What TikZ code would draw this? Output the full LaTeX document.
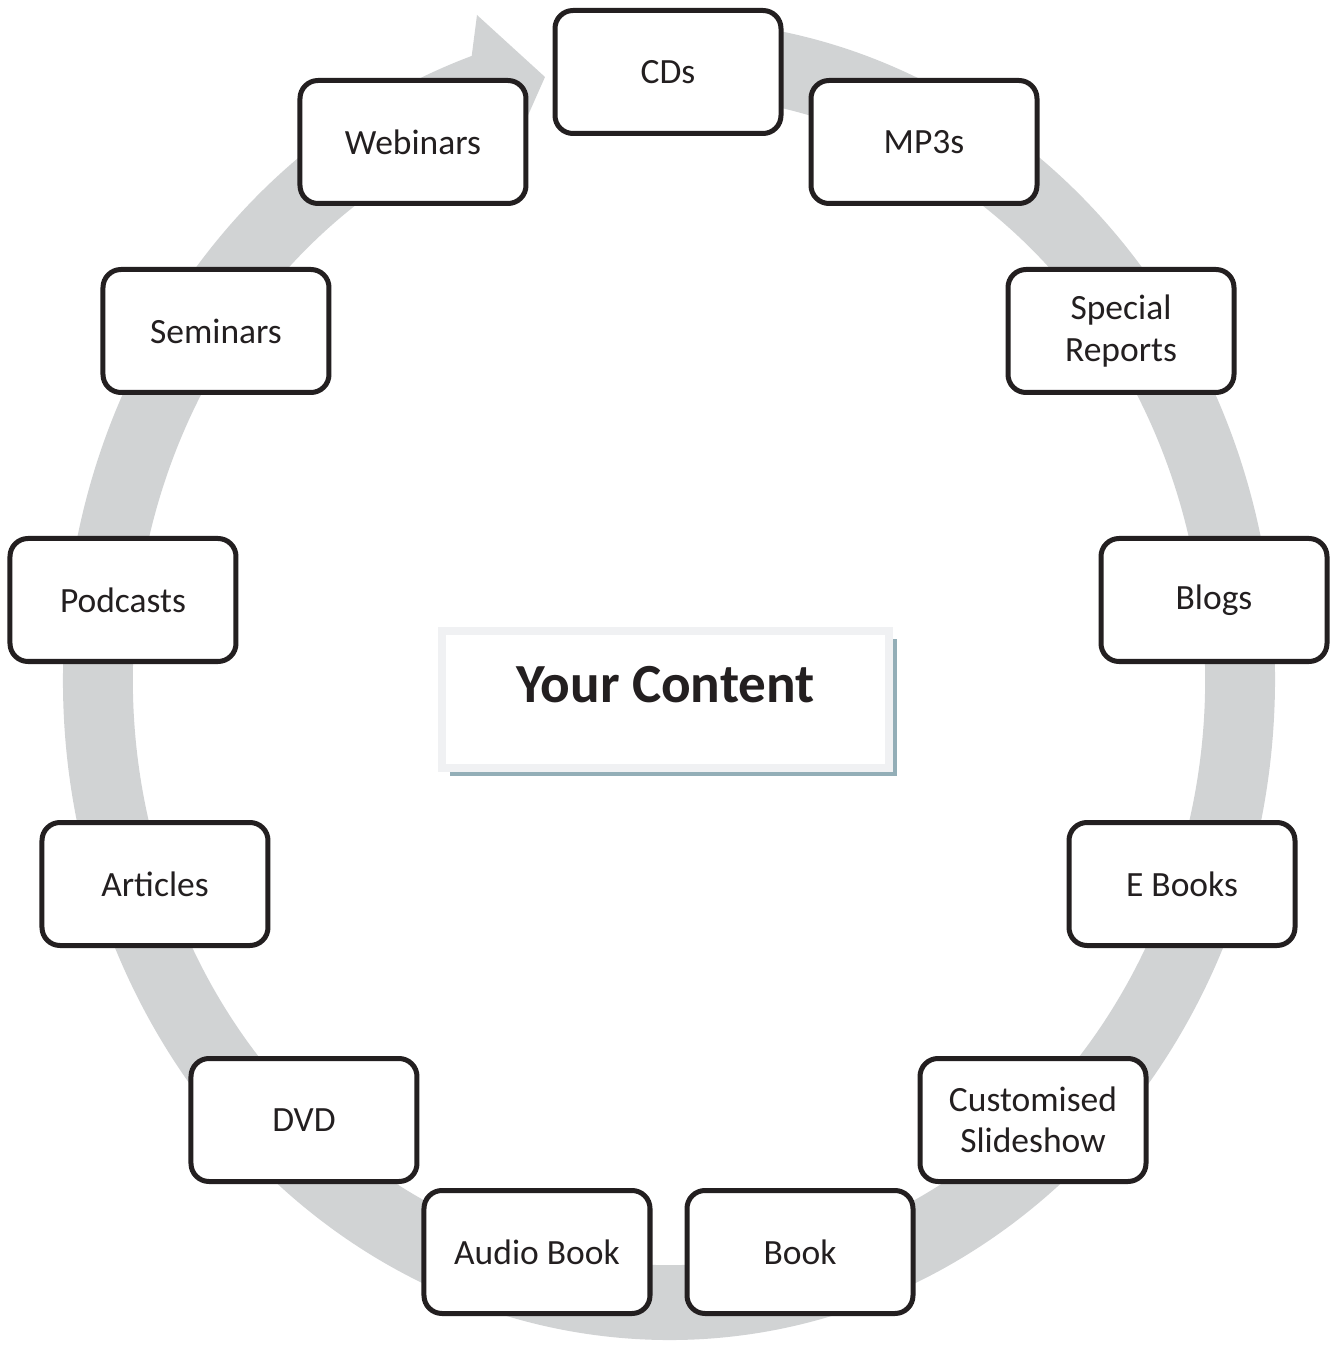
\documentclass[tikz,border=0pt]{standalone}
\usepackage{fontspec}
\setmainfont{Carlito}
\usepackage{tikz}
\usetikzlibrary{shadows}

\definecolor{ringgray}{HTML}{D1D3D4}
\definecolor{boxline}{HTML}{231F20}
\definecolor{framegray}{HTML}{F0F1F3}
\definecolor{shadowblue}{HTML}{93AEB7}

\begin{document}
\begin{tikzpicture}[font=\fontsize{10.1}{11.7}\selectfont,
  medium/.style={rectangle,rounded corners=0.18cm,fill=white,draw=boxline,text=boxline,line width=0.05cm,minimum width=2.26cm,minimum height=1.23cm,inner sep=0pt,align=center},
  hub/.style={rectangle,fill=white,draw=framegray,text=boxline,line width=0.08cm,minimum width=4.47cm,text height=0.71cm,text depth=0.66cm,inner sep=0pt,font=\bfseries\fontsize{15.7}{18}\selectfont,drop shadow={shadow xshift=0.08cm,shadow yshift=-0.08cm,fill=shadowblue,opacity=1}}]
\useasboundingbox (-6.69,-6.68) rectangle (6.66,6.80);

% the circular arrow
\fill[ringgray] (85:6.06cm and 6.60cm)
  arc[start angle=85,end angle=-251,x radius=6.06cm,y radius=6.60cm]
  -- (-1.92,6.65) -- (-1.24,6.03) -- (-1.63,5.15)
  -- (-251:5.36cm and 5.85cm)
  arc[start angle=-251,end angle=85,x radius=5.36cm,y radius=5.85cm] -- cycle;

% centre
\node[hub] (content) at (-0.035,-0.195) {Your Content};

% formats round the ring
\node[medium] (cds) at (-0.01,6.08) {CDs};
\node[medium] (mp3) at (2.55,5.38) {MP3s};
\node[medium] (reports) at (4.52,3.49) {Special\\Reports};
\node[medium] (blogs) at (5.45,0.80) {Blogs};
\node[medium] (ebooks) at (5.13,-2.04) {E Books};
\node[medium] (slides) at (3.64,-4.40) {Customised\\Slideshow};
\node[medium] (book) at (1.31,-5.72) {Book};
\node[medium] (audio) at (-1.32,-5.72) {Audio Book};
\node[medium] (dvd) at (-3.65,-4.40) {DVD};
\node[medium] (articles) at (-5.14,-2.04) {Articles};
\node[medium] (podcasts) at (-5.46,0.80) {Podcasts};
\node[medium] (seminars) at (-4.53,3.49) {Seminars};
\node[medium] (webinars) at (-2.56,5.38) {Webinars};
\end{tikzpicture}
\end{document}
